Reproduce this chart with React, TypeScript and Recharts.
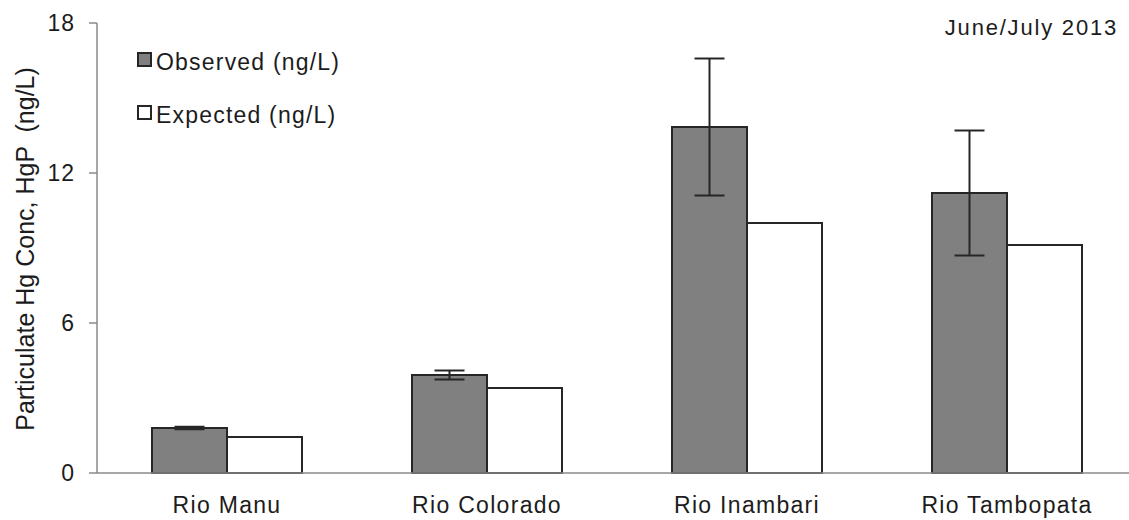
import React from "react";
import {
  BarChart,
  Bar,
  XAxis,
  YAxis,
  ErrorBar,
  Legend,
} from "recharts";

// Particulate Hg at four rivers, June/July 2013
const rivers = ["Rio Manu", "Rio Colorado", "Rio Inambari", "Rio Tambopata"];
const observed = [1.8, 3.92, 13.84, 11.2];
const observedErr = [0.05, 0.18, 2.74, 2.5];
const expected = [1.44, 3.4, 10.0, 9.12];
const yTicks = [0, 6, 12, 18];

const data = rivers.map((river, i) => ({
  river,
  observed: observed[i],
  observedErr: observedErr[i],
  expected: expected[i],
}));

const FONT = '"Liberation Sans", Arial, Helvetica, sans-serif';
const TEXT = "#1c1c1c";
const AXIS = "#8a8a8a";
const OUTLINE = "#262626";

const legendItems = [
  { label: "Observed (ng/L)", fill: "#808080" },
  { label: "Expected (ng/L)", fill: "#ffffff" },
];

const LegendBox = () => (
  <div style={{ fontFamily: FONT, fontSize: 23, color: TEXT, letterSpacing: 1.2 }}>
    {legendItems.map((item) => (
      <div
        key={item.label}
        style={{ display: "flex", alignItems: "center", height: 26, marginBottom: 27 }}
      >
        <span
          style={{
            display: "inline-block",
            width: 11,
            height: 11,
            background: item.fill,
            border: `2px solid ${OUTLINE}`,
            marginRight: 4,
            marginTop: -5,
          }}
        />
        <span>{item.label}</span>
      </div>
    ))}
  </div>
);

const YLabel = () => (
  <text
    x={25}
    y={249}
    transform="rotate(-90 25 249)"
    textAnchor="middle"
    dominantBaseline="central"
    fontFamily={FONT}
    fontSize={25}
    fill={TEXT}
    style={{ whiteSpace: "pre" }}
  >
    Particulate Hg Conc, HgP  (ng/L)
  </text>
);

export default function App() {
  return (
    <div
      style={{
        position: "absolute",
        left: 0,
        top: 0,
        width: 1129,
        height: 520,
        overflow: "hidden",
        background: "#fff",
      }}
    >
      <BarChart
        width={1140}
        height={520}
        data={data}
        margin={{ top: 23, right: 3, left: 0, bottom: 0 }}
        barSize={75}
        barGap={0}
      >
        <XAxis
          dataKey="river"
          height={47}
          tickLine={false}
          tickMargin={18}
          axisLine={{ stroke: AXIS, strokeWidth: 1.5 }}
          tick={{ fill: TEXT, fontSize: 23, fontFamily: FONT, letterSpacing: 1.3 }}
        />
        <YAxis
          width={97}
          domain={[0, 18]}
          ticks={yTicks}
          tickSize={8}
          tickMargin={14}
          axisLine={{ stroke: AXIS, strokeWidth: 1.5 }}
          tickLine={{ stroke: AXIS, strokeWidth: 1.5 }}
          tick={{ fill: TEXT, fontSize: 23, fontFamily: FONT, letterSpacing: 1 }}
          label={<YLabel />}
        />
        <Legend
          content={<LegendBox />}
          layout="vertical"
          align="center"
          verticalAlign="middle"
          wrapperStyle={{ left: 137, top: 49, width: 260 }}
        />
        <Bar
          dataKey="observed"
          name="Observed (ng/L)"
          fill="#808080"
          stroke={OUTLINE}
          strokeWidth={2}
          isAnimationActive={false}
        >
          <ErrorBar
            dataKey="observedErr"
            width={15}
            stroke={OUTLINE}
            strokeWidth={2}
          />
        </Bar>
        <Bar
          dataKey="expected"
          name="Expected (ng/L)"
          fill="#ffffff"
          stroke={OUTLINE}
          strokeWidth={2}
          isAnimationActive={false}
        />
      </BarChart>
      <div
        style={{
          position: "absolute",
          right: 11,
          top: 15,
          fontFamily: FONT,
          fontSize: 22,
          letterSpacing: 1.8,
          color: TEXT,
          whiteSpace: "nowrap",
        }}
      >
        June/July 2013
      </div>
    </div>
  );
}
